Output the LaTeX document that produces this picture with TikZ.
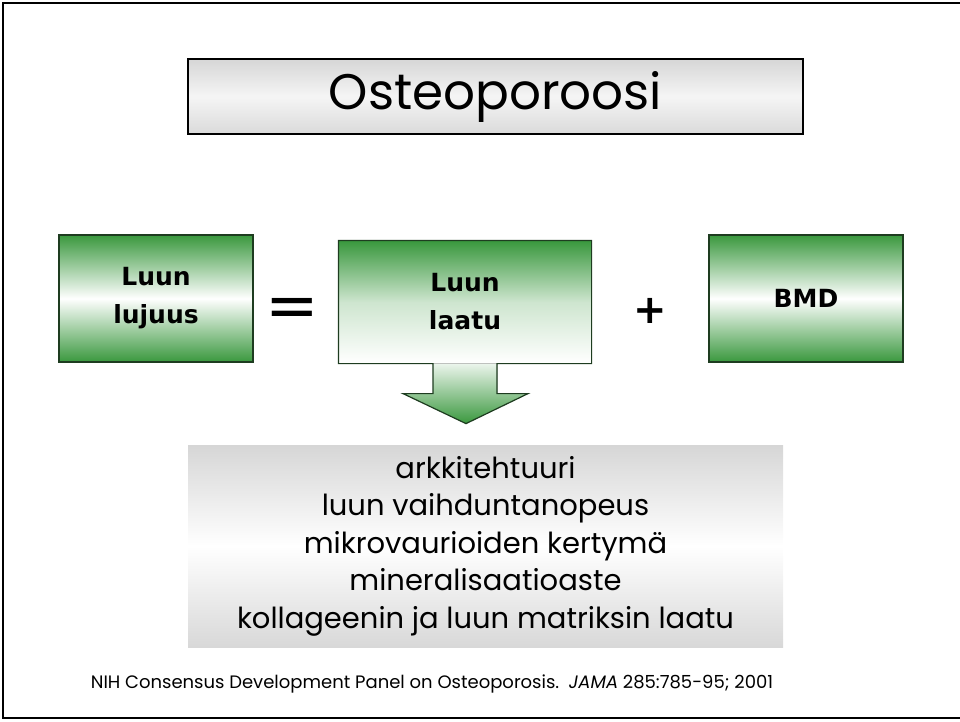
\documentclass[tikz,border=0pt]{standalone}
\usepackage{fontspec}
\setmainfont{Poppins}
\newfontfamily\boxfont{DejaVu Sans}
\usepackage{xcolor}
\usetikzlibrary{positioning, calc}

\definecolor{leafgreen}{RGB}{58,152,62}
\definecolor{edgegreen}{RGB}{30,60,32}
\definecolor{panelgray}{RGB}{214,214,214}

\begin{document}
\begin{tikzpicture}[x=1pt, y=-1pt,
    titlebox/.style={rectangle, draw=black, line width=1.2pt, top color=panelgray, bottom color=panelgray!90, middle color=white!96!black, inner sep=0pt, minimum width=615pt, minimum height=75pt, font=\fontsize{50}{52}\selectfont},
    greenbox/.style={rectangle, draw=edgegreen, line width=1.2pt, top color=leafgreen, bottom color=leafgreen, middle color=white, inner sep=0pt, minimum width=194pt, minimum height=127pt, align=center, font=\boxfont\bfseries\fontsize{25}{38}\selectfont},
    sign/.style={inner sep=0pt, font=\boxfont\bfseries},
    listbox/.style={rectangle, top color=panelgray, bottom color=panelgray!95, middle color=white, inner sep=0pt, minimum width=595pt, minimum height=202pt, align=center, font=\fontsize{29}{37.5}\selectfont}]

    % page frame
    \useasboundingbox (0,0) rectangle (960,721);
    \draw[line width=2pt] (3,3) rectangle (967,718);

    \node[titlebox] (title) at (495.5,96.5) {Osteoporoosi};

    \node[greenbox] (lujuus) at (156,298.5) {Luun\\lujuus};
    \node[sign, font=\boxfont\fontsize{64}{64}\selectfont] (eq) at (292.5,313) {=};
    \node[greenbox, draw=none, top color=leafgreen, bottom color=white, middle color=leafgreen!25!white, minimum width=252pt, minimum height=122pt] (laatu) at (465,302) {Luun\\laatu};
    \node[sign, font=\boxfont\bfseries\fontsize{40}{40}\selectfont] (plus) at (650.5,311) {+};
    \node[greenbox] (bmd) at (806,298.5) {BMD};

    % arrow out of the quality box
    \coordinate (stemL) at ($(laatu.south)+(-32,0)$);
    \coordinate (stemR) at ($(laatu.south)+(32,0)$);
    \coordinate (tip) at ($(laatu.south)+(1,60)$);
    \fill[top color=leafgreen!10!white, bottom color=leafgreen] (stemL) -- ++(0,30) -- ++(-30,0) -- (tip) -- ($(stemR)+(31,30)$) -- ($(stemR)+(0,30)$) -- (stemR) -- cycle;
    \draw[edgegreen, line width=1.2pt, line join=miter] (laatu.north west) -- (laatu.north east) -- (laatu.south east) -- (stemR) -- ++(0,30) -- ++(31,0) -- (tip) -- ($(stemL)+(-30,30)$) -- ($(stemL)+(0,30)$) -- (stemL) -- (laatu.south west) -- cycle;

    \node[listbox] (quality) at (485.5,546) {arkkitehtuuri\\luun vaihduntanopeus\\mikrovaurioiden kertymä\\mineralisaatioaste\\kollageenin ja luun matriksin laatu};

    \node[font=\fontsize{18}{20}\selectfont] (ref) at (432,684) {NIH Consensus Development Panel on Osteoporosis.\ \ \textit{JAMA} 285:785-95; 2001};
\end{tikzpicture}
\end{document}
